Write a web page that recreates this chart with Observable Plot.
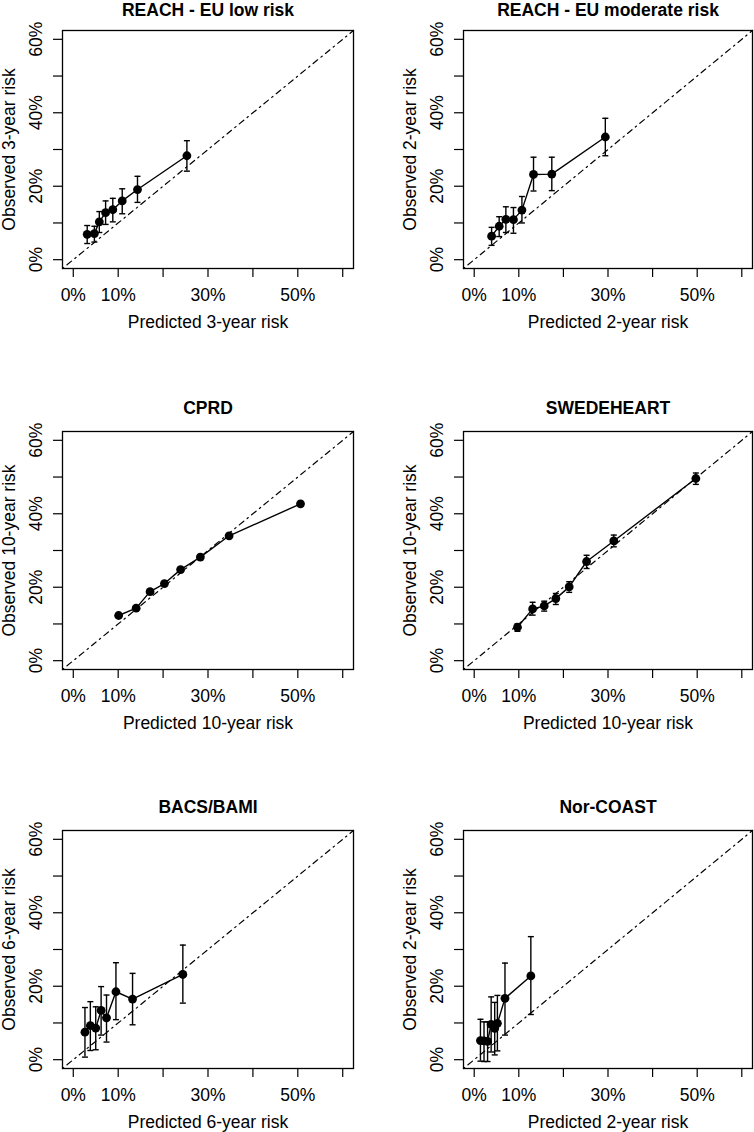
<!DOCTYPE html>
<html><head><meta charset="utf-8">
<script src="https://cdn.jsdelivr.net/npm/d3@7"></script>
<script src="https://cdn.jsdelivr.net/npm/@observablehq/plot@0.6"></script>
<style>
body{margin:0;background:#fff;}
#wrap{position:relative;width:754px;height:1132px;overflow:hidden;background:#fff;}
#wrap svg{position:absolute;}
</style></head><body><div id="wrap"></div>
<script>
// ---- texts ----
const titles = ["REACH - EU low risk", "REACH - EU moderate risk", "CPRD", "SWEDEHEART", "BACS/BAMI", "Nor-COAST"];
const xTitles = ["Predicted 3-year risk", "Predicted 2-year risk", "Predicted 10-year risk", "Predicted 10-year risk", "Predicted 6-year risk", "Predicted 2-year risk"];
const yTitles = ["Observed 3-year risk", "Observed 2-year risk", "Observed 10-year risk", "Observed 10-year risk", "Observed 6-year risk", "Observed 2-year risk"];

// ---- ticks ----
const axisRange = [0, 0.6];
const allTicks = [0, 0.1, 0.2, 0.3, 0.4, 0.5, 0.6];
const xLabelTicks = [0, 0.1, 0.3, 0.5];
const yLabelTicks = [0, 0.2, 0.4, 0.6];

// ---- data (proportions) ----
const reachLowPred = [0.031, 0.047, 0.058, 0.072, 0.088, 0.109, 0.143, 0.253];
const reachLowObs  = [0.069, 0.071, 0.103, 0.128, 0.136, 0.160, 0.191, 0.283];
const reachLowLo   = [0.044, 0.048, 0.074, 0.096, 0.103, 0.125, 0.156, 0.241];
const reachLowHi   = [0.093, 0.091, 0.131, 0.160, 0.167, 0.193, 0.227, 0.324];

const reachModPred = [0.039, 0.056, 0.071, 0.088, 0.107, 0.133, 0.174, 0.294];
const reachModObs  = [0.064, 0.091, 0.110, 0.109, 0.135, 0.232, 0.233, 0.334];
const reachModLo   = [0.039, 0.063, 0.074, 0.072, 0.100, 0.187, 0.188, 0.283];
const reachModHi   = [0.088, 0.117, 0.144, 0.142, 0.172, 0.279, 0.279, 0.385];

const cprdPred = [0.101, 0.140, 0.171, 0.203, 0.239, 0.283, 0.347, 0.506];
const cprdObs  = [0.123, 0.143, 0.188, 0.210, 0.248, 0.282, 0.340, 0.427];

const swedePred = [0.097, 0.131, 0.157, 0.183, 0.213, 0.252, 0.313, 0.497];
const swedeObs  = [0.091, 0.141, 0.149, 0.169, 0.201, 0.270, 0.326, 0.496];
const swedeLo   = [0.080, 0.124, 0.135, 0.153, 0.186, 0.251, 0.310, 0.480];
const swedeHi   = [0.100, 0.159, 0.162, 0.183, 0.215, 0.287, 0.342, 0.511];

const bacsPred = [0.026, 0.038, 0.050, 0.062, 0.074, 0.095, 0.132, 0.244];
const bacsObs  = [0.075, 0.093, 0.086, 0.134, 0.114, 0.185, 0.165, 0.232];
const bacsLo   = [0.007, 0.025, 0.027, 0.067, 0.048, 0.109, 0.095, 0.154];
const bacsHi   = [0.142, 0.158, 0.144, 0.199, 0.176, 0.264, 0.235, 0.312];

const norPred = [0.014, 0.022, 0.030, 0.038, 0.046, 0.052, 0.069, 0.127];
const norObs  = [0.052, 0.051, 0.050, 0.096, 0.085, 0.099, 0.167, 0.228];
const norLo   = [-0.004, -0.005, -0.005, 0.021, 0.013, 0.024, 0.067, 0.123];
const norHi   = [0.110, 0.103, 0.103, 0.171, 0.156, 0.175, 0.263, 0.335];

const series = [
  {pred: reachLowPred, obs: reachLowObs, lo: reachLowLo, hi: reachLowHi},
  {pred: reachModPred, obs: reachModObs, lo: reachModLo, hi: reachModHi},
  {pred: cprdPred, obs: cprdObs, lo: null, hi: null},
  {pred: swedePred, obs: swedeObs, lo: swedeLo, hi: swedeHi},
  {pred: bacsPred, obs: bacsObs, lo: bacsLo, hi: bacsHi},
  {pred: norPred, obs: norObs, lo: norLo, hi: norHi}
];

// R-style axis limits: 4% expansion of [0, 0.6]
const span = axisRange[1] - axisRange[0];
const limits = [axisRange[0] - 0.04 * span, axisRange[1] + 0.04 * span];

const pct = d => Math.round(d * 100) + "%";
const FONT = "'Liberation Sans', Arial, Helvetica, sans-serif";
const FS = 17.5;

// horizontal cap symbol for error bars
const cap = {draw(ctx, size) { const w = Math.sqrt(size / Math.PI); ctx.moveTo(-w, 0); ctx.lineTo(w, 0); }};

const wrap = document.getElementById("wrap");
const rowTops = [0, 401, 800];
const titleOffsets = [-20.5, -23.5, -23.5];
const colLefts = [0, 377];
const colMargins = [{l: 62, r: 24}, {l: 86, r: 2}];

series.forEach((s, i) => {
  const col = i % 2, row = Math.floor(i / 2);
  const data = s.pred.map((x, k) => ({x, y: s.obs[k], lo: s.lo ? s.lo[k] : null, hi: s.hi ? s.hi[k] : null}));
  const marks = [
    Plot.line(limits, {x: d => d, y: d => d, stroke: "black", strokeWidth: 1.2, strokeDasharray: "1.5,4.3,5.8,4.3"}),
    Plot.axisX({ticks: allTicks, tickSize: 9, tickFormat: () => "", label: null, strokeWidth: 1.2}),
    Plot.axisX({ticks: xLabelTicks, tickSize: 0, tickPadding: 20, tickFormat: pct, label: null, fontSize: FS}),
    Plot.axisY({ticks: allTicks, tickSize: 9, tickFormat: () => "", label: null, strokeWidth: 1.2}),
    Plot.axisY({ticks: yLabelTicks, tickSize: 0, tickPadding: 26, tickRotate: -90, textAnchor: "middle", lineAnchor: "middle", tickFormat: pct, label: null, fontSize: FS}),
    Plot.text([titles[i]], {frameAnchor: "top", dy: titleOffsets[row], lineAnchor: "middle", textAnchor: "middle", fontWeight: "bold", fontSize: FS}),
    Plot.text([xTitles[i]], {frameAnchor: "bottom", dy: 54, lineAnchor: "middle", textAnchor: "middle", fontSize: FS}),
    Plot.text([yTitles[i]], {frameAnchor: "left", dx: -53, rotate: -90, lineAnchor: "middle", textAnchor: "middle", fontSize: FS})
  ];
  if (s.lo) {
    marks.push(
      Plot.ruleX(data, {x: "x", y1: "lo", y2: "hi", stroke: "black", strokeWidth: 1.4}),
      Plot.dot(data, {x: "x", y: "lo", symbol: cap, r: 3, stroke: "black", fill: "none", strokeWidth: 1.4}),
      Plot.dot(data, {x: "x", y: "hi", symbol: cap, r: 3, stroke: "black", fill: "none", strokeWidth: 1.4})
    );
  }
  marks.push(
    Plot.line(data, {x: "x", y: "y", stroke: "black", strokeWidth: 1.4}),
    Plot.dot(data, {x: "x", y: "y", r: 4.4, fill: "black", stroke: "none"}),
    Plot.frame({stroke: "black", strokeWidth: 1.3})
  );
  const svg = Plot.plot({
    width: 377, height: 332,
    marginTop: 30, marginBottom: 64,
    marginLeft: colMargins[col].l, marginRight: colMargins[col].r,
    x: {domain: limits},
    y: {domain: limits},
    style: {fontFamily: FONT, fontSize: FS + "px", color: "black", background: "white", overflow: "visible"},
    marks
  });
  svg.style.left = colLefts[col] + "px";
  svg.style.top = rowTops[row] + "px";
  wrap.appendChild(svg);
});
</script>
</body></html>
